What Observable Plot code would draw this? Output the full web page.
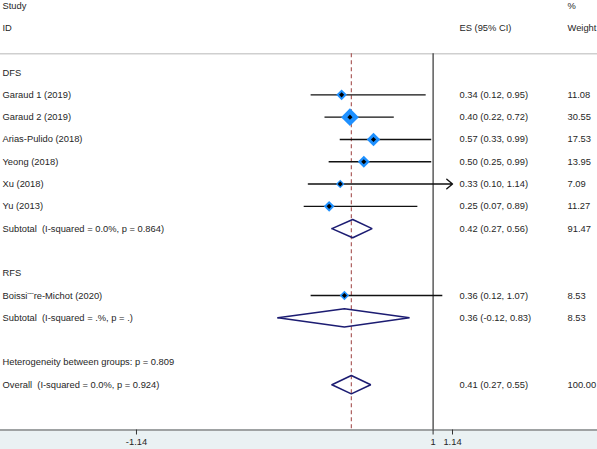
<!DOCTYPE html>
<html>
<head>
<meta charset="utf-8">
<script src="https://cdn.jsdelivr.net/npm/d3@7"></script>
<script src="https://cdn.jsdelivr.net/npm/@observablehq/plot@0.6"></script>
<style>
  html, body { margin: 0; padding: 0; background: #fff; }
  svg text { white-space: pre; }
</style>
</head>
<body>
<div id="chart"></div>
<script>
// ---- data ----
const studies = ["Garaud 1 (2019)", "Garaud 2 (2019)", "Arias-Pulido (2018)", "Yeong (2018)", "Xu (2018)", "Yu (2013)", "Boissi¨¨re-Michot (2020)"];
const studyRows = [1, 2, 3, 4, 5, 6, 10];
const es = [0.34, 0.40, 0.57, 0.50, 0.33, 0.25, 0.36];
const lo = [0.12, 0.22, 0.33, 0.25, 0.10, 0.07, 0.12];
const hi = [0.95, 0.72, 0.99, 0.99, 1.14, 0.89, 1.07];
const weights = [11.08, 30.55, 17.53, 13.95, 7.09, 11.27, 8.53];
const esText = ["0.34 (0.12, 0.95)", "0.40 (0.22, 0.72)", "0.57 (0.33, 0.99)", "0.50 (0.25, 0.99)", "0.33 (0.10, 1.14)", "0.25 (0.07, 0.89)", "0.36 (0.12, 1.07)"];
const weightText = ["11.08", "30.55", "17.53", "13.95", "7.09", "11.27", "8.53"];

const pooledLabels = ["Subtotal  (I-squared = 0.0%, p = 0.864)", "Subtotal  (I-squared = .%, p = .)", "Overall  (I-squared = 0.0%, p = 0.924)"];
const pooledRows = [7, 11, 14];
const pooledEs = [0.42, 0.36, 0.41];
const pooledLo = [0.27, -0.12, 0.27];
const pooledHi = [0.56, 0.83, 0.55];
const pooledEsText = ["0.42 (0.27, 0.56)", "0.36 (-0.12, 0.83)", "0.41 (0.27, 0.55)"];
const pooledWeightText = ["91.47", "8.53", "100.00"];

const groupLabels = ["DFS", "RFS", "Heterogeneity between groups: p = 0.809"];
const groupRows = [0, 9, 13];

const headerLeft = [{t: "Study", row: -3}, {t: "ID", row: -2}];
const headerES = [{t: "ES (95% CI)", row: -2}];
const headerW = [{t: "%", row: -3}, {t: "Weight", row: -2}];

const xTicks = [-1.14, 1, 1.14];
const nullValue = 1;
const overallValue = 0.41;

// ---- derived tables ----
const rows = studies.map((s, i) => ({label: s, row: studyRows[i], es: es[i], lo: lo[i], hi: hi[i], w: weights[i], esT: esText[i], wT: weightText[i]}));
const axisMax = d3.max(xTicks);
const plainCI = rows.filter(d => d.hi < axisMax);
const arrowCI = rows.filter(d => d.hi >= axisMax);
const pooled = pooledLabels.map((s, i) => ({label: s, row: pooledRows[i], es: pooledEs[i], lo: pooledLo[i], hi: pooledHi[i], esT: pooledEsText[i], wT: pooledWeightText[i]}));
const dh = 0.41;
const diamondPts = pooled.flatMap((d, i) => [
  {id: i, x: d.lo, y: d.row}, {id: i, x: d.es, y: d.row - dh},
  {id: i, x: d.hi, y: d.row}, {id: i, x: d.es, y: d.row + dh},
  {id: i, x: d.lo, y: d.row}
]);
const groups = groupLabels.map((s, i) => ({label: s, row: groupRows[i]}));
const leftText = [...groups, ...rows, ...pooled];
const rightText = [...rows, ...pooled];

// ---- layout / style ----
const W = 597, H = 449;
const headerLineRow = -0.84;
const axisRow = 16.03;
const fs = 9.35;
const txt = "#262626";
const colStudy = 2, colES = 459, colW = 567;
const common = {frameAnchor: "left", textAnchor: "start", fontSize: fs, fill: txt};

const chart = Plot.plot({
  width: W, height: H,
  marginLeft: 0, marginRight: 0, marginTop: 0, marginBottom: 19.5,
  style: {fontFamily: "'Liberation Sans', Arial, sans-serif", fontSize: fs + "px", color: txt,
          background: "linear-gradient(to bottom, #ffffff 429.5px, #eaf1f3 429.5px)"},
  x: {domain: [-2.121, 2.186], label: null},
  y: {domain: [-3.23, axisRow], reverse: true, axis: null},
  r: {type: "sqrt", domain: [0, d3.max(weights)], range: [0, 8]},
  marks: [
    Plot.ruleY([headerLineRow], {stroke: "#cfcfcf", strokeWidth: 1.5}),
    Plot.ruleX([nullValue], {y1: headerLineRow, y2: axisRow, stroke: "#333", strokeWidth: 1.2}),
    Plot.ruleX([overallValue], {y1: headerLineRow, y2: axisRow, stroke: "#a5504f", strokeWidth: 1.1, strokeDasharray: "4,3"}),
    Plot.ruleY(plainCI, {y: "row", x1: "lo", x2: "hi", stroke: "#111", strokeWidth: 1.4}),
    Plot.arrow(arrowCI, {x1: "lo", x2: "hi", y1: "row", y2: "row", stroke: "#111", strokeWidth: 1.4, headLength: 8, headAngle: 80}),
    Plot.dot(rows, {x: "es", y: "row", r: "w", symbol: "diamond2", fill: "#1e90ff", stroke: "none"}),
    Plot.dot(rows, {x: "es", y: "row", r: 2.3, symbol: "diamond2", fill: "#000", stroke: "none"}),
    Plot.line(diamondPts, {x: "x", y: "y", z: "id", stroke: "#1c1c72", strokeWidth: 1.6, strokeLinejoin: "miter"}),
    Plot.text(headerLeft, {y: "row", text: "t", dx: colStudy, ...common}),
    Plot.text(headerES, {y: "row", text: "t", dx: colES, ...common}),
    Plot.text(headerW, {y: "row", text: "t", dx: colW, ...common}),
    Plot.text(leftText, {y: "row", text: "label", dx: colStudy, ...common}),
    Plot.text(rightText, {y: "row", text: "esT", dx: colES, ...common}),
    Plot.text(rightText, {y: "row", text: "wT", dx: colW, ...common}),
    Plot.frame({anchor: "bottom", stroke: "#555", strokeWidth: 1.2}),
    Plot.axisX({ticks: xTicks, tickFormat: d => String(d), tickSize: 5, tickPadding: 3, fontSize: fs, stroke: "#333", fill: txt, label: null})
  ]
});
document.getElementById("chart").appendChild(chart);
</script>
</body>
</html>
